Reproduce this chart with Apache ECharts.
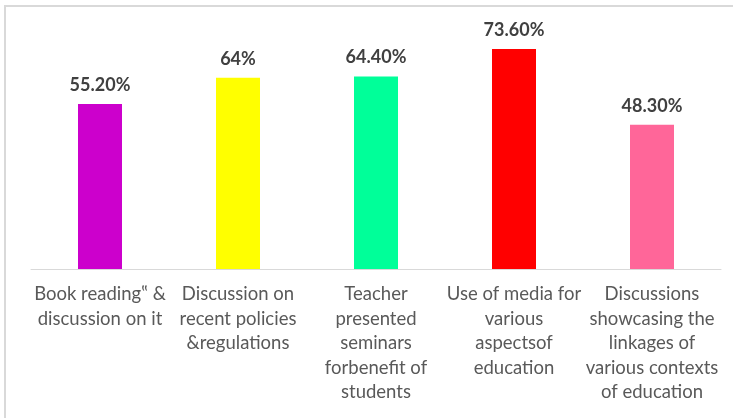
<!DOCTYPE html>
<html>
<head>
<meta charset="utf-8">
<script src="https://cdn.jsdelivr.net/npm/echarts@6/dist/echarts.min.js"></script>
<style>
  html, body { margin: 0; padding: 0; background: #fff; }
  #chart { width: 733px; height: 418px; }
</style>
</head>
<body>
<div id="chart"></div>
<script>
// categories (line breaks as in the source figure)
var categories = [
    'Book reading\u201F &\ndiscussion on it',
    'Discussion on\nrecent policies\n&regulations',
    'Teacher\npresented\nseminars\nforbenefit of\nstudents',
    'Use of media for\nvarious\naspectsof\neducation',
    'Discussions\nshowcasing the\nlinkages of\nvarious contexts\nof education'
];
var values = [55.2, 64, 64.4, 73.6, 48.3];
var valueLabels = ['55.20%', '64%', '64.40%', '73.60%', '48.30%'];
var barColors = ['#CC00CC', '#FFFF00', '#00FF99', '#FF0000', '#FF6699'];

var myChart = echarts.init(document.getElementById('chart'));

var seriesData = [];
for (var i = 0; i < values.length; i++) {
    seriesData.push({
        value: values[i],
        itemStyle: { color: barColors[i] },
        label: { formatter: valueLabels[i] }
    });
}

var option = {
    animation: false,
    graphic: [{
        type: 'rect',
        shape: { x: 5, y: 6, width: 740, height: 420 },
        style: { fill: 'none', stroke: '#d9d9d9', lineWidth: 2 },
        z: -1
    }],
    grid: { left: 31, right: 12, top: 30, bottom: 149 },
    xAxis: {
        type: 'category',
        data: categories,
        axisLine: { lineStyle: { color: '#d9d9d9', width: 1 } },
        axisTick: { show: false },
        axisLabel: {
            interval: 0,
            margin: 13,
            color: '#595959',
            fontFamily: 'Lato',
            fontSize: 18.5,
            lineHeight: 24.5
        }
    },
    yAxis: {
        type: 'value',
        min: 0,
        max: 80,
        show: false,
        splitLine: { show: false }
    },
    series: [{
        type: 'bar',
        data: seriesData,
        barWidth: 44,
        label: {
            show: true,
            position: 'top',
            distance: 10,
            color: '#404040',
            fontFamily: 'Lato',
            fontWeight: 'bold',
            fontSize: 18
        }
    }]
};
myChart.setOption(option);
</script>
</body>
</html>
